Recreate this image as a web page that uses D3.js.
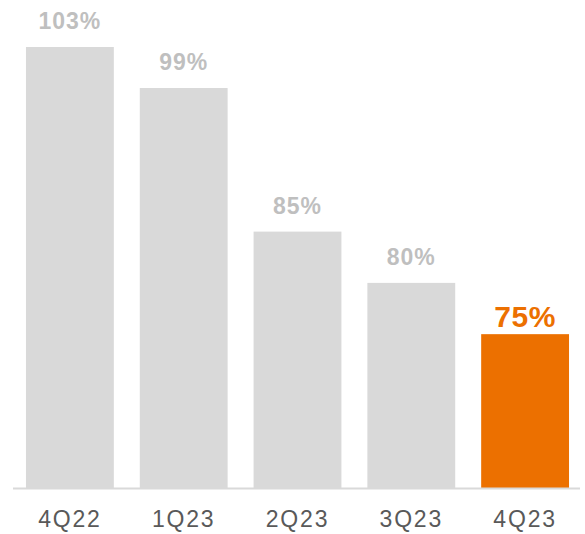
<!DOCTYPE html>
<html>
<head>
<meta charset="utf-8">
<script src="https://cdn.jsdelivr.net/npm/d3@7"></script>
<style>
  html, body { margin: 0; padding: 0; background: #fff; }
  svg { display: block; }
</style>
</head>
<body>
<svg id="chart" width="585" height="534"></svg>
<script>
// Quarterly ratio, last quarter highlighted
const categories = ["4Q22", "1Q23", "2Q23", "3Q23", "4Q23"];
const values = [103, 99, 85, 80, 75];
const valueLabels = ["103%", "99%", "85%", "80%", "75%"];
const highlightIndex = 4;

const svg = d3.select("#chart");
const baseline = 488;

const x = d3.scaleBand()
  .domain(categories)
  .range([13, 582])
  .paddingInner(0.228)
  .paddingOuter(0.114);

const y = d3.scaleLinear()
  .domain([60, 103])
  .range([baseline, 47]);

const grey = "#d9d9d9";
const orange = "#ec7000";

svg.selectAll("rect.bar")
  .data(values)
  .join("rect")
  .attr("class", "bar")
  .attr("x", (d, i) => x(categories[i]))
  .attr("y", d => y(d))
  .attr("width", x.bandwidth())
  .attr("height", d => baseline - y(d))
  .attr("fill", (d, i) => i === highlightIndex ? orange : grey);

// Baseline axis
const axis = d3.axisBottom(x).tickSize(0).tickPadding(0);
const axisG = svg.append("g")
  .attr("transform", `translate(0,${baseline})`)
  .call(axis);
axisG.select(".domain")
  .attr("d", "M13,0.5H580")
  .attr("stroke", "#d9d9d9")
  .attr("stroke-width", 2);
axisG.selectAll(".tick text")
  .attr("y", 39)
  .attr("dy", null)
  .attr("fill", "#595959")
  .style("font-family", "'Liberation Sans', Arial, sans-serif")
  .style("font-size", "23px")
  .style("letter-spacing", "1.8px");

// Value labels
svg.selectAll("text.val")
  .data(values)
  .join("text")
  .attr("class", "val")
  .attr("x", (d, i) => x(categories[i]) + x.bandwidth() / 2)
  .attr("y", (d, i) => y(d) - (i === highlightIndex ? 7 : 18))
  .attr("text-anchor", "middle")
  .attr("fill", (d, i) => i === highlightIndex ? orange : "#bfbfbf")
  .style("font-family", "'Liberation Sans', Arial, sans-serif")
  .style("font-weight", "bold")
  .style("font-size", (d, i) => i === highlightIndex ? "30px" : "23px")
  .style("letter-spacing", (d, i) => i === highlightIndex ? "0.5px" : "1px")
  .text((d, i) => valueLabels[i]);
</script>
</body>
</html>
